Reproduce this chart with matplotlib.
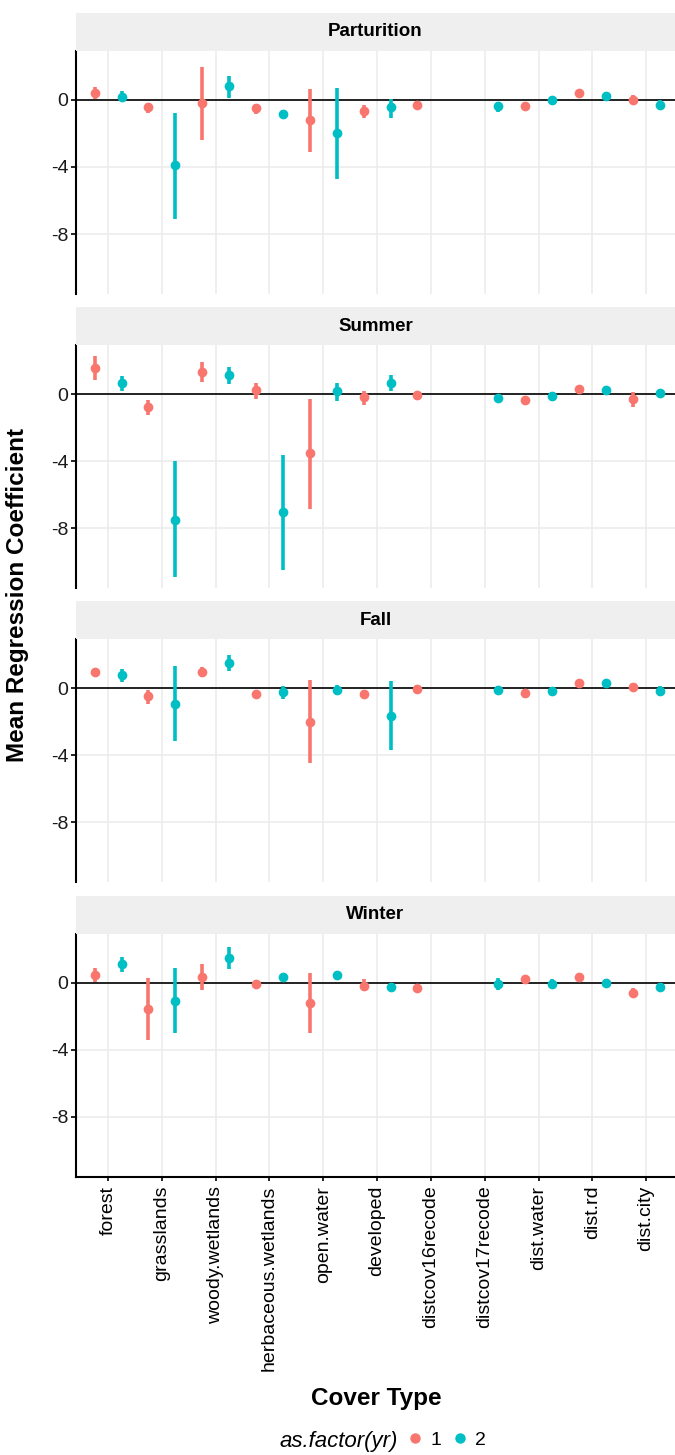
import numpy as np
import matplotlib
matplotlib.use("Agg")
import matplotlib.pyplot as plt
from matplotlib.lines import Line2D

plt.rcParams['font.family'] = ['Liberation Sans', 'DejaVu Sans']

categories = ["forest", "grasslands", "woody.wetlands", "herbaceous.wetlands",
              "open.water", "developed", "distcov16recode", "distcov17recode",
              "dist.water", "dist.rd", "dist.city"]
seasons = ["Parturition", "Summer", "Fall", "Winter"]
years = ["1", "2"]
nan = np.nan

# Parturition
part_y1_mean = [0.41, -0.43, -0.20, -0.47, -1.22, -0.67, -0.28, nan, -0.37, 0.39, 0.00]
part_y1_lo   = [0.08, -0.77, -2.38, -0.83, -3.12, -1.10, -0.51, nan, -0.62, 0.16, -0.27]
part_y1_hi   = [0.75, -0.18, 1.98, -0.24, 0.65, -0.31, -0.04, nan, -0.12, 0.59, 0.27]
part_y2_mean = [0.20, -3.91, 0.81, -0.86, -2.00, -0.43, nan, -0.39, 0.02, 0.26, -0.28]
part_y2_lo   = [-0.08, -7.11, 0.12, -1.10, -4.70, -1.06, nan, -0.71, -0.22, 0.02, -0.53]
part_y2_hi   = [0.51, -0.77, 1.45, -0.63, 0.71, 0.08, nan, -0.12, 0.26, 0.47, -0.02]

# Summer
summ_y1_mean = [1.57, -0.79, 1.34, 0.24, -3.54, -0.20, -0.08, nan, -0.35, 0.29, -0.31]
summ_y1_lo   = [0.83, -1.22, 0.75, -0.31, -6.84, -0.63, -0.35, nan, -0.63, 0.04, -0.75]
summ_y1_hi   = [2.26, -0.35, 1.93, 0.69, -0.29, 0.20, 0.20, nan, -0.10, 0.49, 0.10]
summ_y2_mean = [0.65, -7.50, 1.14, -7.03, 0.16, 0.65, nan, -0.26, -0.14, 0.24, 0.04]
summ_y2_lo   = [0.16, -10.92, 0.63, -10.47, -0.43, 0.16, nan, -0.49, -0.39, -0.06, -0.20]
summ_y2_hi   = [1.08, -4.01, 1.61, -3.63, 0.69, 1.14, nan, -0.04, 0.10, 0.49, 0.28]

# Fall
fall_y1_mean = [0.97, -0.45, 0.97, -0.33, -1.99, -0.32, -0.04, nan, -0.28, 0.32, 0.10]
fall_y1_lo   = [0.73, -0.91, 0.67, -0.59, -4.45, -0.55, -0.28, nan, -0.55, 0.08, -0.12]
fall_y1_hi   = [1.18, -0.12, 1.26, -0.10, 0.47, -0.08, 0.20, nan, -0.04, 0.51, 0.31]
fall_y2_mean = [0.77, -0.91, 1.52, -0.20, -0.12, -1.64, nan, -0.08, -0.14, 0.32, -0.16]
fall_y2_lo   = [0.37, -3.17, 1.02, -0.61, -0.41, -3.70, nan, -0.31, -0.39, 0.08, -0.45]
fall_y2_hi   = [1.16, 1.34, 1.97, 0.14, 0.18, 0.43, nan, 0.16, 0.10, 0.55, 0.14]

# Winter
wint_y1_mean = [0.45, -1.55, 0.35, -0.10, -1.22, -0.20, -0.31, nan, 0.20, 0.33, -0.61]
wint_y1_lo   = [0.06, -3.43, -0.43, -0.33, -3.00, -0.53, -0.55, nan, -0.10, 0.10, -0.88]
wint_y1_hi   = [0.84, 0.29, 1.12, 0.14, 0.57, 0.20, -0.06, nan, 0.43, 0.59, -0.35]
wint_y2_mean = [1.12, -1.10, 1.47, 0.35, 0.43, -0.25, nan, -0.10, -0.06, 0.00, -0.29]
wint_y2_lo   = [0.65, -3.04, 0.78, 0.14, 0.18, -0.49, nan, -0.45, -0.29, -0.24, -0.53]
wint_y2_hi   = [1.51, 0.84, 2.10, 0.59, 0.69, -0.02, nan, 0.29, 0.20, 0.24, -0.06]

season_data = {
    "Parturition": [(part_y1_mean, part_y1_lo, part_y1_hi), (part_y2_mean, part_y2_lo, part_y2_hi)],
    "Summer": [(summ_y1_mean, summ_y1_lo, summ_y1_hi), (summ_y2_mean, summ_y2_lo, summ_y2_hi)],
    "Fall": [(fall_y1_mean, fall_y1_lo, fall_y1_hi), (fall_y2_mean, fall_y2_lo, fall_y2_hi)],
    "Winter": [(wint_y1_mean, wint_y1_lo, wint_y1_hi), (wint_y2_mean, wint_y2_lo, wint_y2_hi)],
}
y_ticks = [-8, -4, 0]
colors = ["#F8766D", "#00BFC4"]

W, H = 675, 1455
fig = plt.figure(figsize=(W / 100, H / 100), dpi=100)

# shared y range with 5% expansion
allv = []
for s in seasons:
    for (m, lo, hi) in season_data[s]:
        allv += [v for v in lo + hi if not np.isnan(v)]
ymin, ymax = min(allv), max(allv)
pad = 0.05 * (ymax - ymin)
ylim = (ymin - pad, ymax + pad)

left_px, right_px = 75.8, 678.4
panel_top0, panel_h, period, strip_h = 51.0, 243.0, 294.2, 38.0
x = np.arange(len(categories))
dodge = 0.25

def fy(px):
    return 1 - px / H

axes = []
for i, s in enumerate(seasons):
    top = panel_top0 + period * i
    ax = fig.add_axes([left_px / W, fy(top + panel_h), (right_px - left_px) / W, panel_h / H])
    axes.append(ax)
    # strip
    sax = fig.add_axes([left_px / W, fy(top), (right_px - left_px) / W, strip_h / H])
    sax.set_facecolor("#EFEFEF")
    sax.set_xticks([]); sax.set_yticks([])
    for sp in sax.spines.values():
        sp.set_visible(False)
    sax.text((375.5 - left_px) / (right_px - left_px), 0.5, s, ha="center", va="center",
             fontsize=13.5, fontweight="bold", transform=sax.transAxes)

    ax.set_xlim(-0.6, len(categories) - 0.4)
    ax.set_ylim(*ylim)
    ax.set_xticks(x)
    ax.set_yticks(y_ticks)
    ax.set_yticklabels([str(t) for t in y_ticks], fontsize=14)
    ax.grid(True, color="#EBEBEB", linewidth=1.1, zorder=0)
    ax.set_axisbelow(True)
    ax.axhline(0, color="black", linewidth=1.2, zorder=2)
    for sp in ["top", "right"]:
        ax.spines[sp].set_visible(False)
    ax.spines["left"].set_linewidth(1.5)
    ax.spines["bottom"].set_linewidth(1.5)
    ax.tick_params(axis="y", length=3.5, width=1.2, pad=2, colors="black", labelcolor="#1a1a1a")
    ax.tick_params(axis="x", length=3, width=1.2)
    if i < len(seasons) - 1:
        ax.spines["bottom"].set_visible(False)
        ax.tick_params(axis="x", length=0, labelbottom=False)
    else:
        ax.set_xticklabels(categories, rotation=90, fontsize=14)
    for k, (m, lo, hi) in enumerate(season_data[s]):
        m = np.array(m, float); lo = np.array(lo, float); hi = np.array(hi, float)
        xs = x + (-dodge if k == 0 else dodge)
        ok = ~np.isnan(m)
        ax.vlines(xs[ok], lo[ok], hi[ok], color=colors[k], linewidth=2.6, zorder=3)
        ax.plot(xs[ok], m[ok], "o", color=colors[k], markersize=7, markeredgewidth=0, zorder=4)

fig.text(18 / W, fy(595), "Mean Regression Coefficient", rotation=90, ha="center", va="center",
         fontsize=17.5, fontweight="bold")
fig.text(376 / W, fy(1398), "Cover Type", ha="center", va="center", fontsize=17.5, fontweight="bold")

# legend: title as text, entries as a title-less legend to its right
fig.text(398 / W, fy(1441), "as.factor(yr)", ha="right", va="center", fontsize=16, fontstyle="italic")
handles = [Line2D([], [], marker="o", linestyle="none", color=c, markersize=7.5, markeredgewidth=0) for c in colors]
fig.legend(handles, years, loc="center left", bbox_to_anchor=(405 / W, fy(1440)),
           ncol=2, frameon=False, fontsize=14, handletextpad=0.3,
           columnspacing=0.45, handlelength=1.0, borderpad=0, borderaxespad=0)

fig.savefig("out.png", dpi=100)
